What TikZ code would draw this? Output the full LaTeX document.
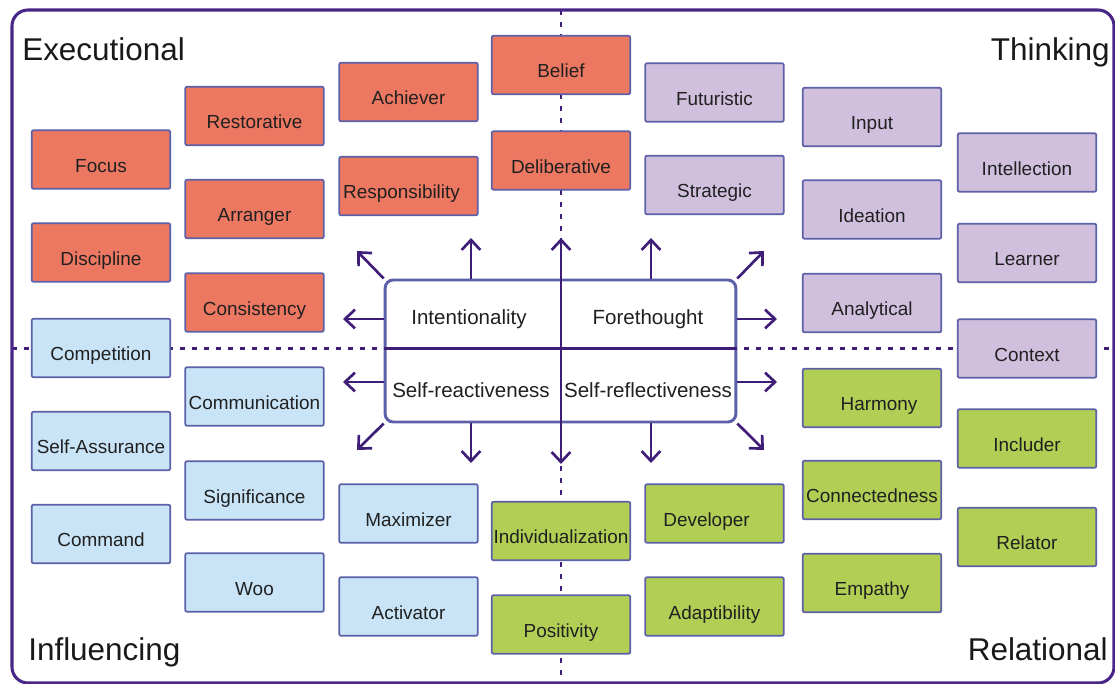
\documentclass[tikz,border=0pt]{standalone}
\usepackage{fontspec}
\setmainfont{Liberation Sans}
\usetikzlibrary{arrows.meta,positioning}

\definecolor{framepurple}{RGB}{72,38,135}
\definecolor{linepurple}{RGB}{62,30,120}
\definecolor{boxedge}{RGB}{92,96,168}
\definecolor{execred}{RGB}{237,120,98}
\definecolor{thinklav}{RGB}{208,192,222}
\definecolor{inflblue}{RGB}{200,228,246}
\definecolor{relgreen}{RGB}{178,206,84}
\definecolor{labelgray}{RGB}{32,32,32}

\begin{document}
\begin{tikzpicture}[x=0.75pt, y=-0.75pt,
    >={Straight Barb[length=7.5pt,width=14pt]},
    theme/.style={draw=boxedge, line width=1.3pt, rounded corners=1.5pt, minimum width=104pt, minimum height=44pt, inner sep=0pt, text height=19.2pt, text depth=0pt, font=\fontsize{14.2}{16}\selectfont, text=labelgray},
    exec/.style={theme, fill=execred},
    think/.style={theme, fill=thinklav},
    infl/.style={theme, fill=inflblue},
    rel/.style={theme, fill=relgreen},
    quadtitle/.style={inner sep=0pt, font=\fontsize{23.6}{28}\selectfont, text=black!90},
    facet/.style={font=\fontsize{15.4}{18}\selectfont, text=labelgray},
    spoke/.style={->, line width=2pt, linepurple},
    axis/.style={linepurple, line width=2.2pt, dash pattern=on 3.75pt off 5.25pt}
]
    \useasboundingbox (0,0) rectangle (1115,684);

    % Dashed axes (behind everything)
    \coordinate (axtop) at (561,10);
    \coordinate (axbot) at (561,684);
    \coordinate (axleft) at (12,348.5);
    \coordinate (axright) at (1115,348.5);
    \draw[axis] (axtop) -- (axbot);
    \draw[axis] (axleft) -- (axright);

    % Outer frame
    \draw[framepurple, line width=2.3pt, rounded corners=12pt] (12,10) rectangle (1114,683);

    % Quadrant titles
    \node[quadtitle, anchor=base west] (executional) at (22,61) {Executional};
    \node[quadtitle, anchor=base east] (thinking) at (1110,61) {Thinking};
    \node[quadtitle, anchor=base west] (influencing) at (28,660) {Influencing};
    \node[quadtitle, anchor=base east] (relational) at (1108,660) {Relational};

    % Executional themes (top left)
    \node[exec] (focus) at (101,159.5) {Focus};
    \node[exec] (discipline) at (101,252.5) {Discipline};
    \node[exec] (restorative) at (254.5,116) {Restorative};
    \node[exec] (arranger) at (254.5,209) {Arranger};
    \node[exec] (consistency) at (254.5,302.5) {Consistency};
    \node[exec] (achiever) at (408.5,92) {Achiever};
    \node[exec] (responsibility) at (408.5,186) {Responsibility\kern10.5pt};
    \node[exec] (belief) at (561,65) {Belief};
    \node[exec] (deliberative) at (561,160.5) {Deliberative};

    % Thinking themes (top right)
    \node[think] (futuristic) at (714.5,92.5) {Futuristic};
    \node[think] (strategic) at (714.5,185) {Strategic};
    \node[think] (input) at (872,117) {Input};
    \node[think] (ideation) at (872,209.5) {Ideation};
    \node[think] (analytical) at (872,303) {Analytical};
    \node[think] (intellection) at (1027,162.5) {Intellection};
    \node[think] (learner) at (1027,253) {Learner};
    \node[think] (context) at (1027,348.5) {Context};

    % Influencing themes (bottom left)
    \node[infl] (competition) at (101,348) {Competition};
    \node[infl] (selfassurance) at (101,441) {Self-Assurance};
    \node[infl] (command) at (101,534) {Command};
    \node[infl] (communication) at (254.5,396.5) {Communication};
    \node[infl] (significance) at (254.5,490.5) {Significance};
    \node[infl] (woo) at (254.5,582.5) {Woo};
    \node[infl] (maximizer) at (408.5,513.5) {Maximizer};
    \node[infl] (activator) at (408.5,606.5) {Activator};

    % Relational themes (bottom right)
    \node[rel] (individualization) at (561,531) {Individualization};
    \node[rel] (positivity) at (561,624.5) {Positivity};
    \node[rel] (developer) at (714.5,513.5) {Developer\kern12pt};
    \node[rel] (adaptibility) at (714.5,606.5) {Adaptibility};
    \node[rel] (harmony) at (872,398) {\kern10.5pt Harmony};
    \node[rel] (connectedness) at (872,490) {Connectedness};
    \node[rel] (empathy) at (872,583) {Empathy};
    \node[rel] (includer) at (1027,438.5) {Includer};
    \node[rel] (relator) at (1027,537) {Relator};

    % Central agency box
    \node[draw=boxedge, line width=2.2pt, fill=white, rounded corners=6pt, minimum width=263pt, minimum height=106.5pt] (core) at (560.5,351) {};
    \draw[linepurple, line width=2pt] (core.west |- axleft) -- (core.east |- axleft);
    \node[facet] (intent) at (469,319) {Intentionality};
    \node[facet] (fore) at (648,319) {Forethought};
    \node[facet] (react) at (471,390) {Self-reactiveness};
    \node[facet] (reflect) at (648,390) {Self-reflectiveness};

    % Spokes out of the box
    \coordinate (tipN) at (561,238);
    \coordinate (tipS) at (561,464);
    \draw[spoke, <->] (tipN) -- (tipS);
    \coordinate (upL) at (471,238);
    \coordinate (upR) at (651,238);
    \coordinate (dnL) at (471,463);
    \coordinate (dnR) at (651,463);
    \coordinate (lfT) at (343,319);
    \coordinate (lfB) at (343,382);
    \coordinate (rtT) at (777,319);
    \coordinate (rtB) at (777,382);
    \coordinate (nw) at (357,251);
    \coordinate (ne) at (764,251);
    \coordinate (sw) at (357,450);
    \coordinate (se) at (764,450);
    \draw[spoke] (core.north -| upL) -- (upL);
    \draw[spoke] (core.north -| upR) -- (upR);
    \draw[spoke] (core.south -| dnL) -- (dnL);
    \draw[spoke] (core.south -| dnR) -- (dnR);
    \draw[spoke] (core.west |- lfT) -- (lfT);
    \draw[spoke] (core.west |- lfB) -- (lfB);
    \draw[spoke] (core.east |- rtT) -- (rtT);
    \draw[spoke] (core.east |- rtB) -- (rtB);
    \draw[spoke] (core.north west) -- (nw);
    \draw[spoke] (core.north east) -- (ne);
    \draw[spoke] (core.south west) -- (sw);
    \draw[spoke] (core.south east) -- (se);

\end{tikzpicture}
\end{document}
